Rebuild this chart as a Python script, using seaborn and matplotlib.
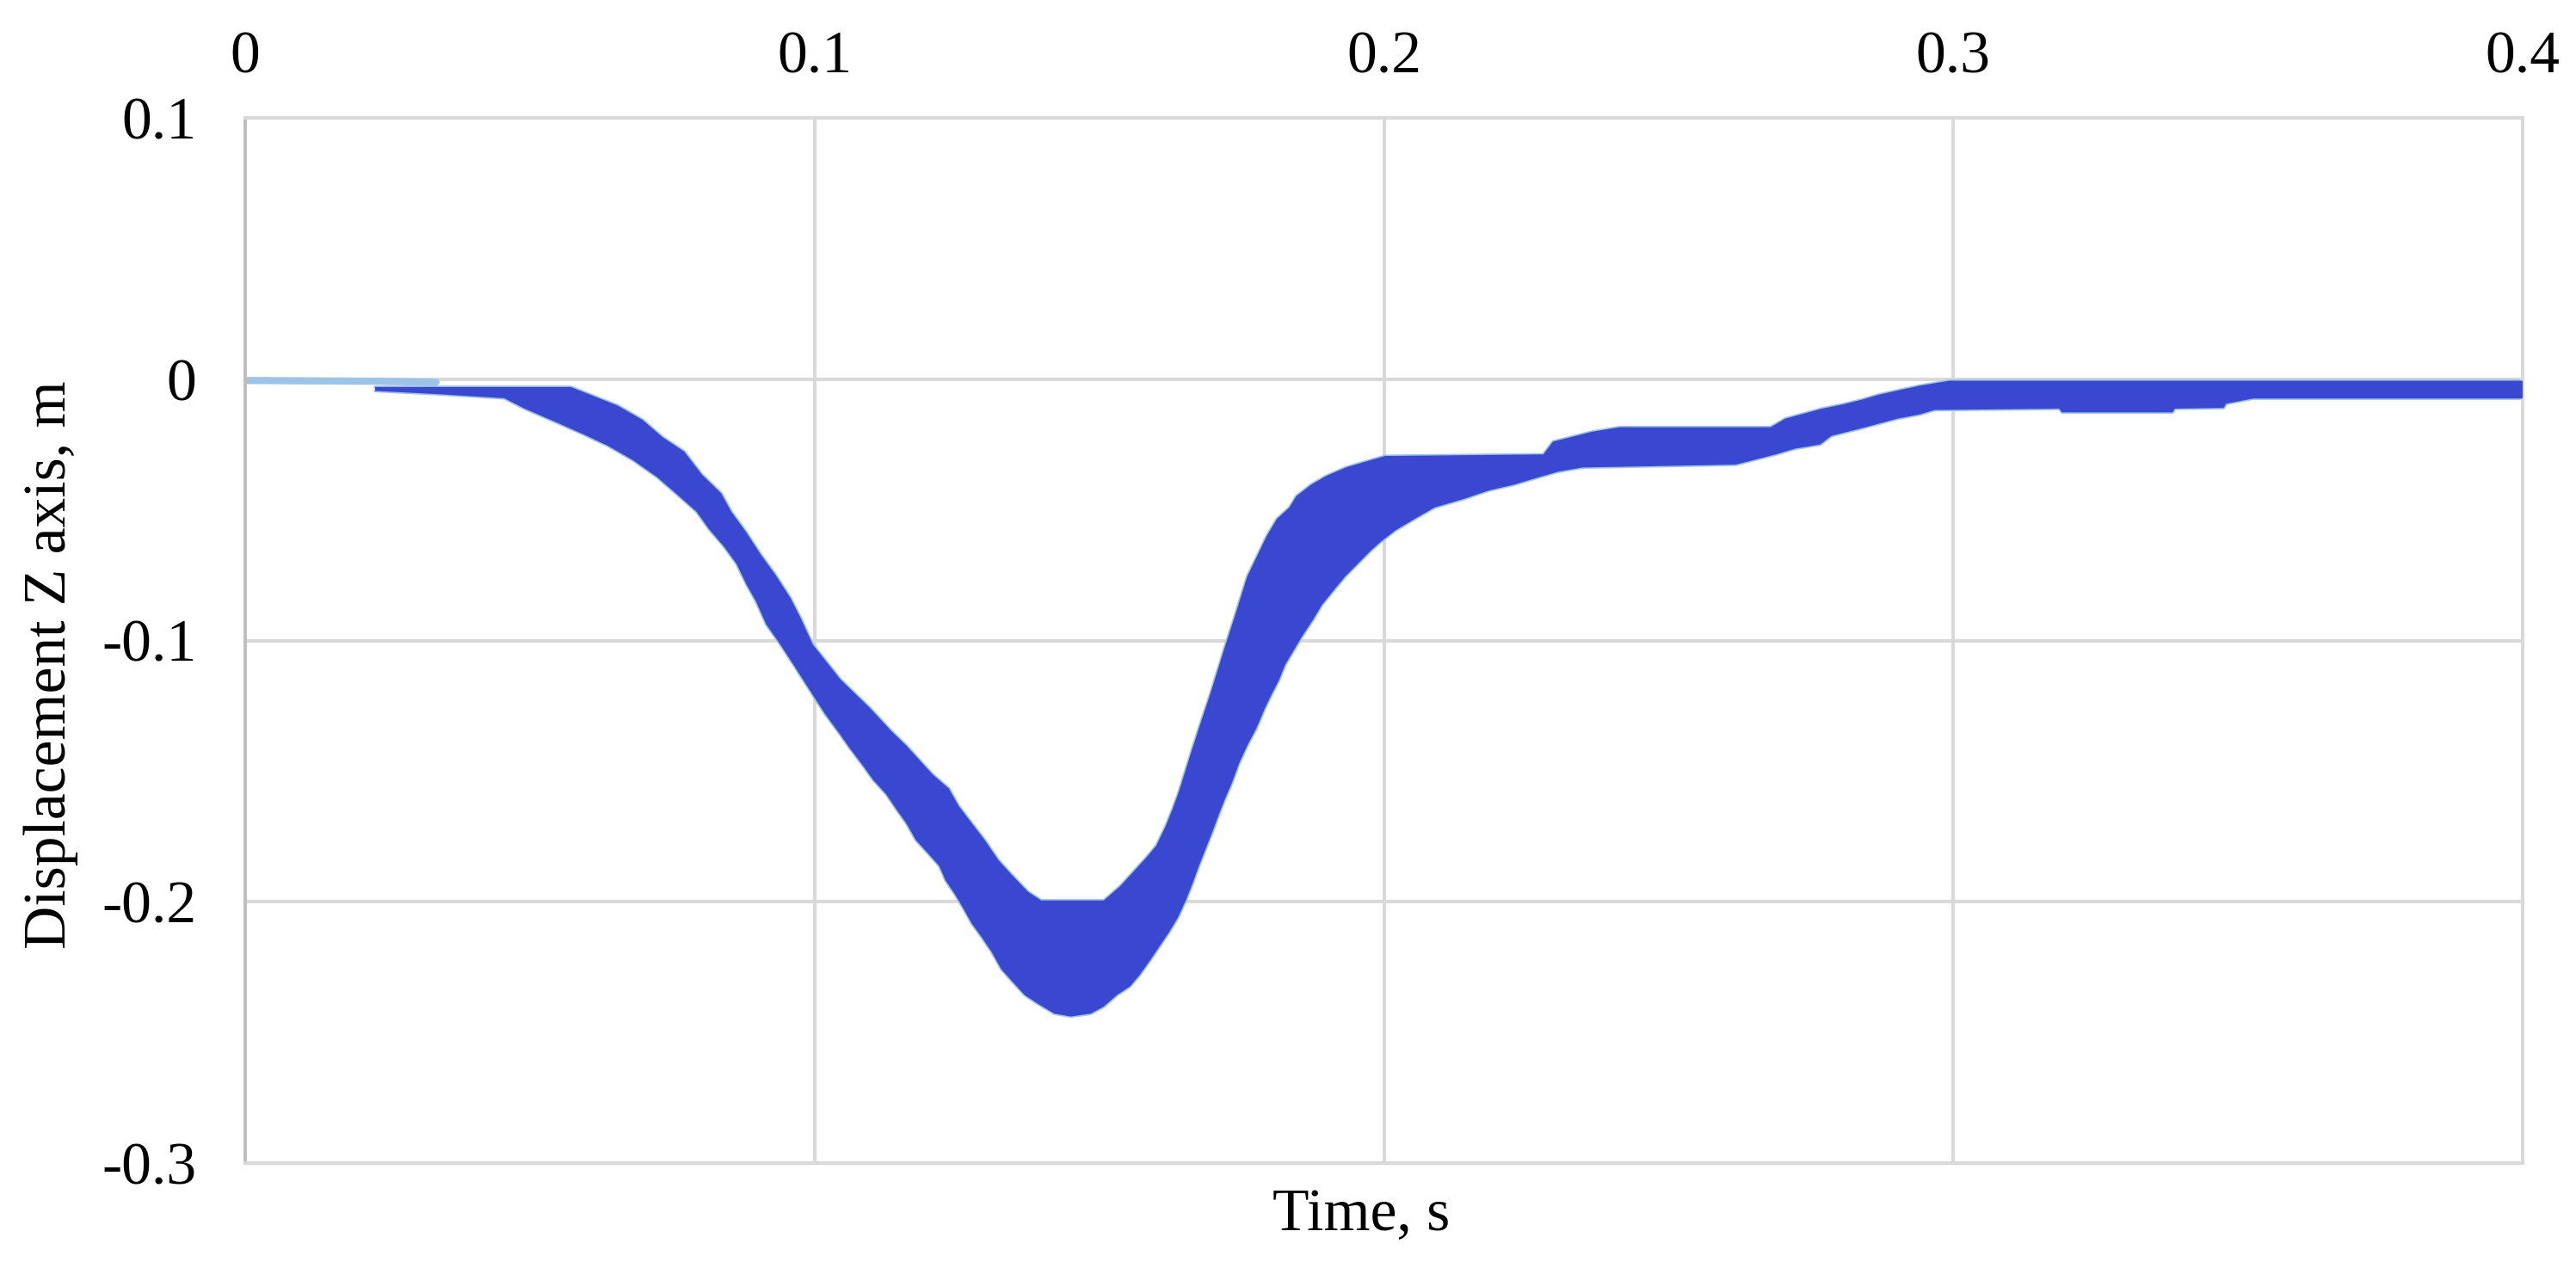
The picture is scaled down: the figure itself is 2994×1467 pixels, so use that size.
import numpy as np
import pandas as pd
import matplotlib
matplotlib.use("Agg")
import matplotlib.pyplot as plt
import seaborn as sns

# ---- data ----
x_ticks = [0, 0.1, 0.2, 0.3, 0.4]
x_tick_labels = ["0", "0.1", "0.2", "0.3", "0.4"]
y_ticks = [0.1, 0, -0.1, -0.2, -0.3]
y_tick_labels = ["0.1", "0", "-0.1", "-0.2", "-0.3"]

# upper envelope of the oscillating displacement band
t_upper = [0.0228, 0.0335, 0.0456, 0.0572, 0.0654, 0.0698, 0.0733, 0.0771, 0.0802,
           0.0836, 0.0854, 0.0880, 0.0906, 0.0932, 0.0958, 0.0976, 0.0997, 0.1045,
           0.1097, 0.1135, 0.1161, 0.1184, 0.1207, 0.1236, 0.1253, 0.1276, 0.1299,
           0.1323, 0.1346, 0.1375, 0.1398, 0.1508, 0.1537, 0.1560, 0.1583, 0.1600,
           0.1617, 0.1629, 0.1640, 0.1662, 0.1680, 0.1695, 0.1720, 0.1738, 0.1760,
           0.1794, 0.1812, 0.1834, 0.1846, 0.1872, 0.1898, 0.1933, 0.1959, 0.2002,
           0.2280, 0.2297, 0.2366, 0.2414, 0.2679, 0.2705, 0.2769, 0.2807, 0.2842,
           0.2868, 0.2907, 0.2941, 0.2993, 0.4000]
z_upper = [-0.0030, -0.0030, -0.0030, -0.0030, -0.0101, -0.0156, -0.0222, -0.0277, -0.0365,
           -0.0437, -0.0508, -0.0586, -0.0673, -0.0751, -0.0839, -0.0916, -0.1016, -0.1148,
           -0.1258, -0.1347, -0.1402, -0.1457, -0.1512, -0.1567, -0.1633, -0.1699, -0.1764,
           -0.1841, -0.1896, -0.1962, -0.1995, -0.1995, -0.1940, -0.1885, -0.1830, -0.1786,
           -0.1709, -0.1644, -0.1578, -0.1424, -0.1303, -0.1205, -0.1029, -0.0908, -0.0755,
           -0.0601, -0.0535, -0.0491, -0.0448, -0.0404, -0.0371, -0.0338, -0.0321, -0.0294,
           -0.0288, -0.0239, -0.0201, -0.0184, -0.0184, -0.0151, -0.0113, -0.0096, -0.0077,
           -0.0060, -0.0041, -0.0025, -0.0006, -0.0006]

# lower envelope of the band
t_lower = [0.0228, 0.0335, 0.0455, 0.0490, 0.0542, 0.0594, 0.0637, 0.0681, 0.0724,
           0.0759, 0.0793, 0.0815, 0.0841, 0.0863, 0.0880, 0.0897, 0.0915, 0.0940,
           0.0966, 0.0992, 0.1018, 0.1044, 0.1062, 0.1085, 0.1103, 0.1126, 0.1143,
           0.1161, 0.1178, 0.1201, 0.1219, 0.1230, 0.1247, 0.1262, 0.1276, 0.1294,
           0.1311, 0.1328, 0.1346, 0.1369, 0.1392, 0.1421, 0.1450, 0.1485, 0.1508,
           0.1531, 0.1554, 0.1571, 0.1589, 0.1606, 0.1623, 0.1638, 0.1652, 0.1664,
           0.1675, 0.1687, 0.1699, 0.1710, 0.1722, 0.1733, 0.1746, 0.1760, 0.1776,
           0.1791, 0.1803, 0.1816, 0.1826, 0.1841, 0.1856, 0.1876, 0.1891, 0.1911,
           0.1932, 0.1952, 0.1977, 0.1994, 0.2020, 0.2054, 0.2089, 0.2141, 0.2184,
           0.2228, 0.2271, 0.2306, 0.2349, 0.2618, 0.2688, 0.2722, 0.2766, 0.2786,
           0.2846, 0.2902, 0.2941, 0.2967, 0.3186, 0.3191, 0.3385, 0.3389, 0.3475,
           0.3479, 0.3527, 0.4000]
z_lower = [-0.0045, -0.0057, -0.0073, -0.0112, -0.0161, -0.0211, -0.0255, -0.0310, -0.0376,
           -0.0442, -0.0508, -0.0575, -0.0641, -0.0707, -0.0784, -0.0850, -0.0938, -0.1016,
           -0.1103, -0.1192, -0.1280, -0.1357, -0.1413, -0.1479, -0.1534, -0.1589, -0.1644,
           -0.1699, -0.1764, -0.1819, -0.1863, -0.1918, -0.1973, -0.2028, -0.2083, -0.2137,
           -0.2192, -0.2258, -0.2302, -0.2357, -0.2390, -0.2428, -0.2439, -0.2428, -0.2401,
           -0.2357, -0.2324, -0.2280, -0.2225, -0.2170, -0.2115, -0.2061, -0.1995, -0.1929,
           -0.1863, -0.1797, -0.1731, -0.1666, -0.1600, -0.1545, -0.1468, -0.1402, -0.1336,
           -0.1259, -0.1205, -0.1150, -0.1095, -0.1040, -0.0985, -0.0919, -0.0864, -0.0810,
           -0.0755, -0.0711, -0.0656, -0.0623, -0.0579, -0.0535, -0.0491, -0.0458, -0.0426,
           -0.0404, -0.0376, -0.0354, -0.0338, -0.0327, -0.0288, -0.0266, -0.0250, -0.0217,
           -0.0184, -0.0151, -0.0135, -0.0118, -0.0113, -0.0127, -0.0127, -0.0113, -0.0110,
           -0.0094, -0.0074, -0.0074]

# light-blue trace visible before the band starts
t_start = [0.0, 0.0228, 0.0335]
z_start = [-0.0005, -0.0008, -0.0012]

DARK = "#3a47d0"
LIGHT = "#9dc3e6"
GRID = "#d9d9d9"

sns.set_theme(style="white")
plt.rcParams["font.family"] = ["Liberation Serif", "DejaVu Serif"]

W, H = 2994, 1467
DPI = 200
fig = plt.figure(figsize=(W / DPI, H / DPI), dpi=DPI)
ax = fig.add_axes([285 / W, 1 - 1352 / H, 2647 / W, 1215 / H])

# light series (underneath)
sns.lineplot(data=pd.DataFrame({"t": t_start, "z": z_start}), x="t", y="z",
             ax=ax, color=LIGHT, lw=3.0, zorder=2, estimator=None, sort=False)
sns.lineplot(data=pd.DataFrame({"t": t_upper, "z": z_upper}), x="t", y="z",
             ax=ax, color=LIGHT, lw=1.2, zorder=2, estimator=None, sort=False)
sns.lineplot(data=pd.DataFrame({"t": t_lower, "z": z_lower}), x="t", y="z",
             ax=ax, color=LIGHT, lw=1.2, zorder=2, estimator=None, sort=False)

# dark oscillation band
poly_t = np.concatenate([np.array(t_upper), np.array(t_lower)[::-1]])
poly_z = np.concatenate([np.array(z_upper), np.array(z_lower)[::-1]])
ax.fill(poly_t, poly_z, color=DARK, lw=0, zorder=3)

ax.set_xlim(0, 0.4)
ax.set_ylim(-0.3, 0.1)
ax.set_xticks(x_ticks)
ax.set_xticklabels(x_tick_labels)
ax.set_yticks(y_ticks)
ax.set_yticklabels(y_tick_labels)

ax.grid(True, color=GRID, lw=1.45, zorder=0)
ax.set_axisbelow(True)
for name, sp in ax.spines.items():
    sp.set_visible(True)
    sp.set_color(GRID)
    sp.set_linewidth(1.45)
ax.spines["left"].set_color("#bfbfbf")

ax.xaxis.tick_top()
ax.tick_params(axis="x", length=0, pad=13.5, labelsize=25, colors="black")
ax.tick_params(axis="y", length=0, pad=20.5, labelsize=25, colors="black")

ax.set_xlabel("Time, s", fontsize=25, color="black")
ax.xaxis.set_label_position("bottom")
ax.xaxis.label.set_verticalalignment("baseline")
ax.xaxis.set_label_coords(0.49, -0.0642)

ax.set_ylabel("Displacement Z axis, m", fontsize=25, color="black")
ax.yaxis.label.set_verticalalignment("baseline")
ax.yaxis.set_label_coords(-0.079, 0.4765)

fig.savefig("out.png", dpi=DPI, facecolor="white")
